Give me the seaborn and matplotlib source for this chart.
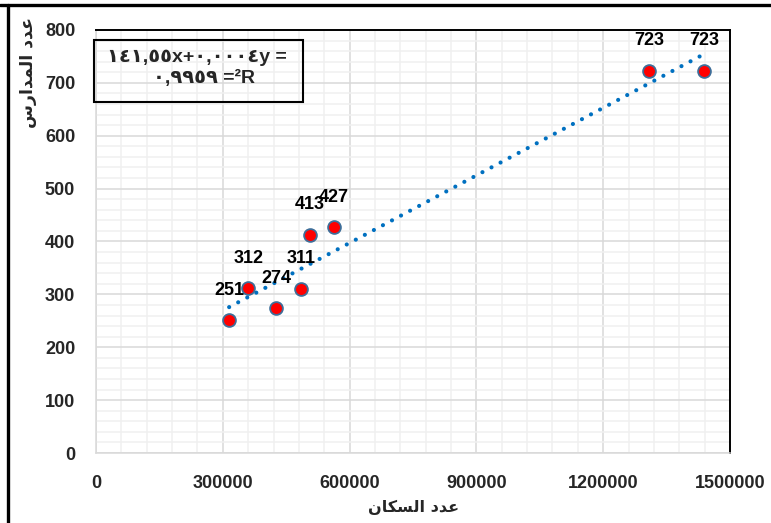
import numpy as np
import pandas as pd
import matplotlib
matplotlib.use("Agg")
import matplotlib.pyplot as plt
import seaborn as sns
from matplotlib.ticker import MultipleLocator, FuncFormatter
from matplotlib.patches import Rectangle
from matplotlib.lines import Line2D

# ---- data ----
population = [315000, 360000, 426000, 485000, 506000, 563000, 1308000, 1438000]
schools = [251, 312, 274, 311, 413, 427, 723, 723]
point_labels = ["251", "312", "274", "311", "413", "427", "723", "723"]
x_ticks = [0, 300000, 600000, 900000, 1200000, 1500000]
y_ticks = [0, 100, 200, 300, 400, 500, 600, 700, 800]

# Arabic text (presentation forms, visual order for left-to-right rendering)
x_title = "\uFEE5\uFE8E\uFEDC\uFEB4\uFEDF\uFE8D \uFEA9\uFEAA\uFECB"          # عدد السكان
y_title = "\uFEB1\uFEAD\uFE8D\uFEAA\uFEE4\uFEDF\uFE8D \uFEA9\uFEAA\uFECB"    # عدد المدارس
eq_line1 = "\u0661\u0664\u0661,\u0665\u0665x+\u0660,\u0660\u0660\u0660\u0664y ="
eq_line2 = "\u0660,\u0669\u0669\u0665\u0669 =\u00b2R"

df = pd.DataFrame({"pop": population, "schools": schools})

sns.set_theme(style="white")
plt.rcParams["font.family"] = ["Liberation Sans", "DejaVu Sans"]
plt.rcParams["font.weight"] = "bold"

W, H = 771, 523
fig = plt.figure(figsize=(W / 100, H / 100), dpi=100)
ax = fig.add_axes([96 / W, 1 - 453 / H, (730 - 96) / W, (453 - 30) / H])

# trendline
sns.regplot(data=df, x="pop", y="schools", ax=ax, ci=None, scatter=False,
            line_kws=dict(color="#0070C0", lw=3.0, linestyle=(0, (0.01, 2.45)),
                          dash_capstyle="round", zorder=3))
# points
sns.scatterplot(data=df, x="pop", y="schools", ax=ax, s=85, color="#FF0000",
                edgecolor="#3E6E99", linewidth=1.3, zorder=4, legend=False)

for xv, yv, lab in zip(population, schools, point_labels):
    ax.annotate(lab, (xv, yv), xytext=(0, 21.5), textcoords="offset points",
                ha="center", va="center", fontsize=13, fontweight="bold",
                color="black", zorder=5)

ax.set_xlim(0, 1500000)
ax.set_ylim(0, 800)
ax.set_xticks(x_ticks)
ax.set_yticks(y_ticks)
ax.xaxis.set_minor_locator(MultipleLocator(60000))
ax.yaxis.set_minor_locator(MultipleLocator(20))
ax.xaxis.set_major_formatter(FuncFormatter(lambda v, p: f"{int(v)}"))
ax.yaxis.set_major_formatter(FuncFormatter(lambda v, p: f"{int(v)}"))
ax.grid(True, which="major", color="#D9D9D9", lw=1.1, zorder=0)
ax.grid(True, which="minor", color="#F0F0F0", lw=1.1, zorder=0)
ax.set_axisbelow(True)
ax.tick_params(axis="both", which="both", length=0)
ax.tick_params(axis="x", pad=15.5, labelsize=13)
ax.tick_params(axis="y", pad=15, labelsize=13)
for lab in ax.get_xticklabels() + ax.get_yticklabels():
    lab.set_fontweight("bold")

for side in ["left", "bottom"]:
    ax.spines[side].set_color("#D9D9D9")
    ax.spines[side].set_linewidth(1.1)
for side in ["top", "right"]:
    ax.spines[side].set_color("black")
    ax.spines[side].set_linewidth(1.4)

ax.set_xlabel("")
ax.set_ylabel("")
fig.text(414 / W, 1 - 507 / H, x_title, ha="center", va="center",
         fontsize=11.5, fontweight="bold", family=["DejaVu Sans"])
fig.text(28 / W, 1 - 72 / H, y_title, ha="center", va="center", rotation=90,
         fontsize=12.5, fontweight="bold", family=["DejaVu Sans"])

# equation box
fig.patches.append(Rectangle((94 / W, 1 - 102 / H), (303 - 94) / W, (102 - 40) / H,
                             transform=fig.transFigure, fill=False,
                             edgecolor="black", lw=1.5, zorder=6))
fig.text(197 / W, 1 - 57 / H, eq_line1, ha="center", va="center", fontsize=14,
         fontweight="bold", family=["Liberation Sans", "DejaVu Sans"])
fig.text(204 / W, 1 - 78 / H, eq_line2, ha="center", va="center", fontsize=14,
         fontweight="bold", family=["Liberation Sans", "DejaVu Sans"])

# outer chart border (top and left visible)
fig.add_artist(Line2D([0, 1], [1 - 5 / H, 1 - 5 / H], transform=fig.transFigure,
                      color="black", lw=2.4))
fig.add_artist(Line2D([8 / W, 8 / W], [0, 1 - 5 / H], transform=fig.transFigure,
                      color="black", lw=2.4))

fig.savefig("out.png", dpi=100)
